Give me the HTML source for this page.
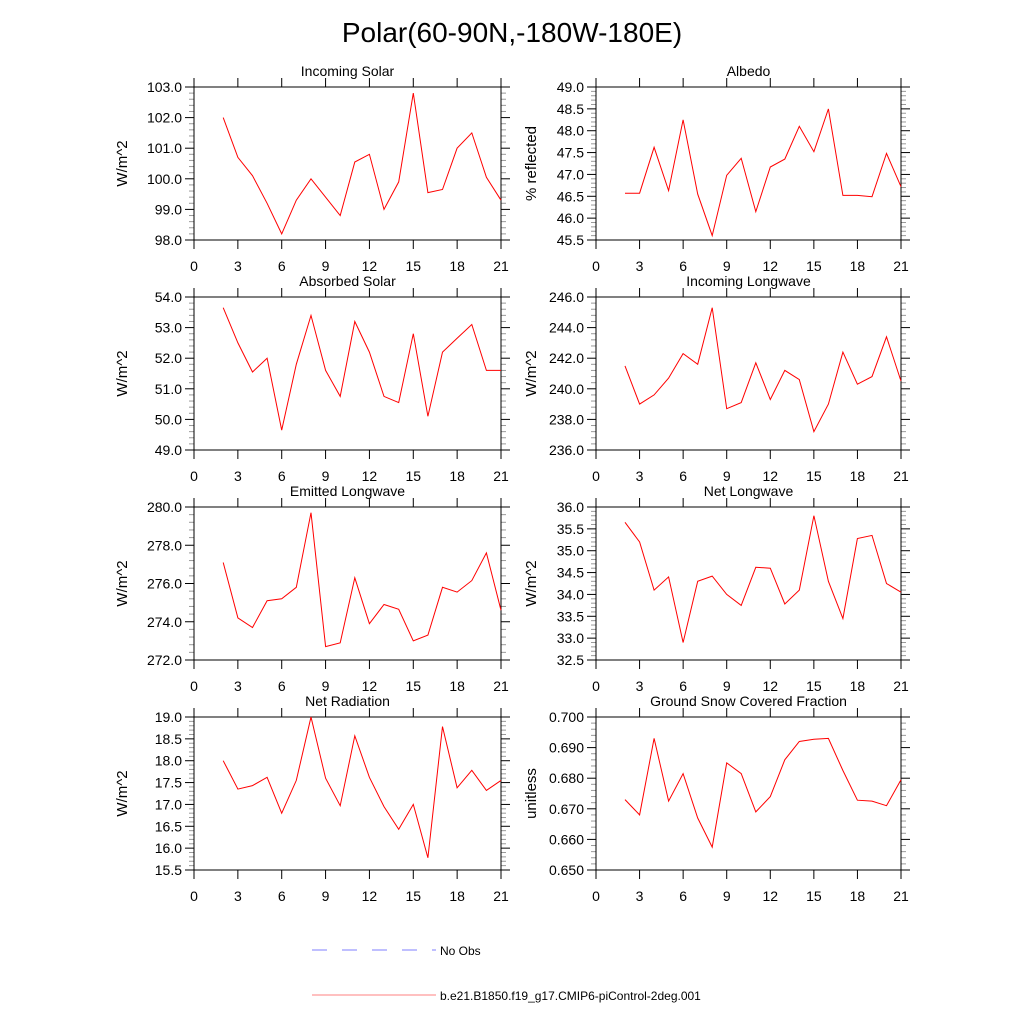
<!DOCTYPE html>
<html><head><meta charset="utf-8"><style>
html,body{margin:0;padding:0;background:#fff;}
svg{display:block;font-family:"Liberation Sans",Arial,sans-serif;}
</style></head><body>
<svg id="fig" width="1024" height="1024" viewBox="0 0 1024 1024">
<text x="512" y="42" font-size="28" text-anchor="middle">Polar(60-90N,-180W-180E)</text>
<g>
<line x1="312" y1="950" x2="436" y2="950" stroke="#7f7fff" stroke-width="1" stroke-dasharray="15,15"/>
<text x="440" y="955" font-size="12">No Obs</text>
<line x1="312" y1="995" x2="436" y2="995" stroke="#ff8080" stroke-width="1"/>
<text x="440" y="1000" font-size="12">b.e21.B1850.f19_g17.CMIP6-piControl-2deg.001</text>
</g>
</svg>
<script>
const xValues = [2,3,4,5,6,7,8,9,10,11,12,13,14,15,16,17,18,19,20,21];
const xTicks = [0,3,6,9,12,15,18,21];
const incomingSolar = [102.0,100.7,100.1,99.2,98.2,99.3,100.0,99.4,98.8,100.55,100.8,99.0,99.9,102.8,99.55,99.65,101.0,101.5,100.05,99.3];
const albedo = [46.57,46.57,47.62,46.63,48.25,46.55,45.6,46.98,47.37,46.15,47.17,47.35,48.1,47.52,48.5,46.52,46.52,46.49,47.48,46.72];
const absorbedSolar = [53.65,52.5,51.55,52.0,49.65,51.8,53.4,51.6,50.75,53.2,52.2,50.75,50.55,52.8,50.1,52.2,52.65,53.1,51.6,51.6];
const incomingLongwave = [241.5,239.0,239.6,240.7,242.3,241.6,245.3,238.7,239.1,241.7,239.3,241.2,240.6,237.2,239.0,242.4,240.3,240.8,243.4,240.5];
const emittedLongwave = [277.1,274.2,273.7,275.1,275.2,275.8,279.7,272.7,272.9,276.3,273.9,274.9,274.65,273.0,273.3,275.8,275.55,276.15,277.6,274.6];
const netLongwave = [35.65,35.2,34.1,34.4,32.9,34.3,34.42,34.0,33.75,34.62,34.6,33.78,34.1,35.8,34.3,33.45,35.28,35.35,34.25,34.05];
const netRadiation = [18.0,17.35,17.43,17.62,16.8,17.55,19.0,17.6,16.97,18.57,17.62,16.95,16.43,17.0,15.78,18.78,17.38,17.78,17.32,17.55];
const snowFraction = [0.673,0.668,0.693,0.6725,0.6815,0.667,0.6575,0.685,0.6815,0.669,0.674,0.686,0.692,0.6927,0.693,0.6825,0.6728,0.6725,0.671,0.6795];
const yTicksIncomingSolar = [98,99,100,101,102,103];
const yTicksAlbedo = [45.5,46,46.5,47,47.5,48,48.5,49];
const yTicksAbsorbedSolar = [49,50,51,52,53,54];
const yTicksIncomingLongwave = [236,238,240,242,244,246];
const yTicksEmittedLongwave = [272,274,276,278,280];
const yTicksNetLongwave = [32.5,33,33.5,34,34.5,35,35.5,36];
const yTicksNetRadiation = [15.5,16,16.5,17,17.5,18,18.5,19];
const yTicksSnow = [0.65,0.66,0.67,0.68,0.69,0.70];

const NS='http://www.w3.org/2000/svg';
const svg=document.getElementById('fig');
function mk(tag,attrs,parent){const e=document.createElementNS(NS,tag);for(const k in attrs)e.setAttribute(k,attrs[k]);parent.appendChild(e);return e;}

const panels=[
 {name:'incoming-solar',title:'Incoming Solar',ylab:'W/m^2',data:incomingSolar,ticks:yTicksIncomingSolar,dec:1,col:0,row:0},
 {name:'albedo',title:'Albedo',ylab:'% reflected',data:albedo,ticks:yTicksAlbedo,dec:1,col:1,row:0},
 {name:'absorbed-solar',title:'Absorbed Solar',ylab:'W/m^2',data:absorbedSolar,ticks:yTicksAbsorbedSolar,dec:1,col:0,row:1},
 {name:'incoming-longwave',title:'Incoming Longwave',ylab:'W/m^2',data:incomingLongwave,ticks:yTicksIncomingLongwave,dec:1,col:1,row:1},
 {name:'emitted-longwave',title:'Emitted Longwave',ylab:'W/m^2',data:emittedLongwave,ticks:yTicksEmittedLongwave,dec:1,col:0,row:2},
 {name:'net-longwave',title:'Net Longwave',ylab:'W/m^2',data:netLongwave,ticks:yTicksNetLongwave,dec:1,col:1,row:2},
 {name:'net-radiation',title:'Net Radiation',ylab:'W/m^2',data:netRadiation,ticks:yTicksNetRadiation,dec:1,col:0,row:3},
 {name:'ground-snow',title:'Ground Snow Covered Fraction',ylab:'unitless',data:snowFraction,ticks:yTicksSnow,dec:3,col:1,row:3}
];
const colX=[[194,501],[596,901]];
const rowY=[[87,240],[297,450],[507,660],[717,870]];

panels.forEach(p=>{
 const [x0,x1]=colX[p.col],[y0,y1]=rowY[p.row];
 const g=mk('g',{},svg);
 
 
 const ymin=p.ticks[0],ymax=p.ticks[p.ticks.length-1];
 const sx=v=>x0+(v-0)/(21-0)*(x1-x0);
 const sy=v=>y1-(v-ymin)/(ymax-ymin)*(y1-y0);
 // minor y ticks
 const step=p.ticks[1]-p.ticks[0];
 for(let i=0;i<p.ticks.length-1;i++){for(let k=1;k<5;k++){const yy=sy(p.ticks[i]+step*k/5);
  const m1=mk('line',{x1:x0-5,y1:yy,x2:x0,y2:yy,stroke:'#999','stroke-width':1},g);
  
  
  const m2=mk('line',{x1:x1,y1:yy,x2:x1+5,y2:yy,stroke:'#999','stroke-width':1},g);
  
  }}
 p.ticks.forEach(t=>{const yy=sy(t);
  const a=mk('line',{x1:x0-9,y1:yy,x2:x0,y2:yy,stroke:'#000','stroke-width':1},g);
  
  
  const b=mk('line',{x1:x1,y1:yy,x2:x1+9,y2:yy,stroke:'#000','stroke-width':1},g);
  
  
  const tx=mk('text',{x:x0-12,y:yy+5,'font-size':14,'text-anchor':'end'},g);
  tx.textContent=t.toFixed(p.dec);
  
  });
 xTicks.forEach(t=>{const xx=sx(t);
  const a=mk('line',{x1:xx,y1:y1,x2:xx,y2:y1+9,stroke:'#000','stroke-width':1},g);
  
  
  const b=mk('line',{x1:xx,y1:y0-9,x2:xx,y2:y0,stroke:'#000','stroke-width':1},g);
  
  
  const tx=mk('text',{x:xx,y:y1+31,'font-size':14,'text-anchor':'middle'},g);
  tx.textContent=String(t);
  
  });
 const frame=mk('rect',{x:x0,y:y0,width:x1-x0,height:y1-y0,fill:'none',stroke:'#000','stroke-width':1},g);
 
 
 const pts=xValues.map((x,i)=>sx(x).toFixed(1)+','+sy(p.data[i]).toFixed(1)).join(' ');
 const line=mk('polyline',{points:pts,fill:'none',stroke:'#ff0000','stroke-width':1},g);
 
 
 const tt=mk('text',{x:(x0+x1)/2,y:y0-11,'font-size':14,'text-anchor':'middle'},g);
 tt.textContent=p.title;
 
 
 const yl=mk('text',{x:0,y:0,'font-size':15,'text-anchor':'middle',transform:'translate('+(p.col===0?127:536)+','+((y0+y1)/2)+') rotate(-90)'},g);
 yl.textContent=p.ylab;
 
 
});
</script>
</body></html>
